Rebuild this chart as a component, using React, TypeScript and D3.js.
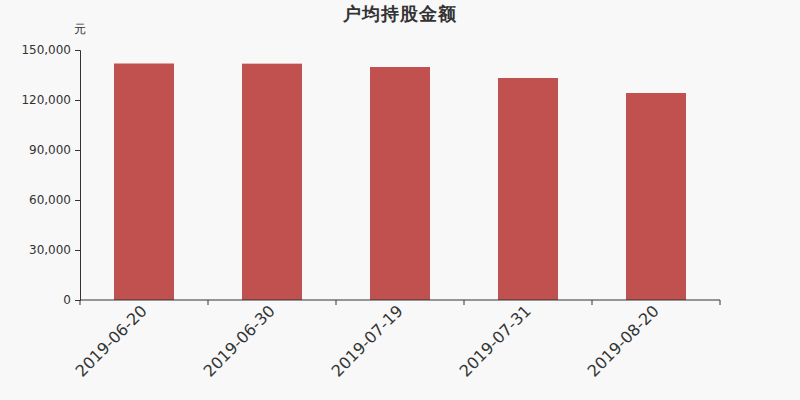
import React, { useEffect, useRef } from 'react';
import * as d3 from 'd3';

const dates = ['2019-06-20', '2019-06-30', '2019-07-19', '2019-07-31', '2019-08-20'];
const amounts = [141900, 141800, 139800, 133200, 124200];
const yTicks = [0, 30000, 60000, 90000, 120000, 150000];

const W = 800;
const H = 400;
const margin = { top: 50, right: 80, bottom: 100, left: 80 };

export default function App() {
  const svgRef = useRef<SVGSVGElement>(null);

  useEffect(() => {
    if (!svgRef.current) return;
    document.body.style.margin = '0';
    const svg = d3.select(svgRef.current);
    svg.selectAll('*').remove();

    const font = '"DejaVu Sans", sans-serif';
    const innerW = W - margin.left - margin.right;
    const innerH = H - margin.top - margin.bottom;

    svg.append('rect').attr('width', W).attr('height', H).attr('fill', '#f8f8f8');

    // title + unit
    svg.append('text')
      .attr('x', W / 2).attr('y', 20)
      .attr('text-anchor', 'middle')
      .style('font-family', font).style('font-size', '18px').style('font-weight', 'bold')
      .style('letter-spacing', '1px')
      .attr('fill', '#333')
      .text('户均持股金额');
    svg.append('text')
      .attr('x', 74).attr('y', 33)
      .style('font-family', font).style('font-size', '12px')
      .attr('fill', '#333')
      .text('元');

    const g = svg.append('g').attr('transform', `translate(${margin.left},${margin.top})`);

    const x = d3.scaleBand().domain(dates).range([0, innerW]).padding(0);
    const y = d3.scaleLinear().domain([0, 150000]).range([innerH, 0]);
    const barW = 60;

    // Bars
    g.selectAll('.bar')
      .data(dates)
      .enter()
      .append('rect')
      .attr('class', 'bar')
      .attr('x', (d) => (x(d) || 0) + x.bandwidth() / 2 - barW / 2)
      .attr('y', (d, i) => y(amounts[i]))
      .attr('width', barW)
      .attr('height', (d, i) => innerH - y(amounts[i]))
      .attr('fill', '#c1514e');

    // Y axis
    const yAxis = g.append('g')
      .call(d3.axisLeft(y).tickValues(yTicks).tickSize(5).tickPadding(4).tickFormat(d3.format(',')));
    yAxis.select('.domain').attr('stroke', '#333');
    yAxis.selectAll('line').attr('stroke', '#333');
    yAxis.selectAll('text')
      .style('font-family', font).style('font-size', '12px').attr('fill', '#333');

    // X axis with ticks at band boundaries
    const xAxis = g.append('g').attr('transform', `translate(0,${innerH})`);
    xAxis.append('line').attr('x1', 0).attr('x2', innerW).attr('stroke', '#333');
    const bounds = d3.range(dates.length + 1).map((i) => i * x.step());
    xAxis.selectAll('.tick')
      .data(bounds)
      .enter()
      .append('line')
      .attr('x1', (d) => d).attr('x2', (d) => d)
      .attr('y1', 0).attr('y2', 5)
      .attr('stroke', '#333');
    xAxis.selectAll('.lbl')
      .data(dates)
      .enter()
      .append('text')
      .attr('transform', (d) => `translate(${(x(d) || 0) + x.bandwidth() / 2},${8}) rotate(-45)`)
      .attr('text-anchor', 'end')
      .attr('dy', '0.35em')
      .style('font-family', font).style('font-size', '16px')
      .attr('fill', '#333')
      .text((d) => d);

    return () => {
      svg.selectAll('*').remove();
    };
  }, []);

  return (
    <div>
      <svg ref={svgRef} width={W} height={H} style={{ display: 'block' }} />
    </div>
  );
}
